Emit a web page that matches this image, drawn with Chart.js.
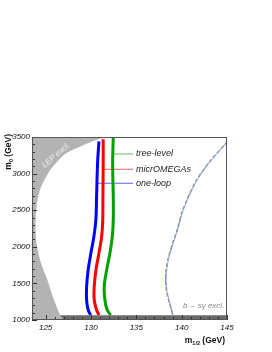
<!DOCTYPE html>
<html>
<head>
<meta charset="utf-8">
<script src="https://cdn.jsdelivr.net/npm/chart.js@4.4.0/dist/chart.umd.min.js"></script>
<style>
  html, body { margin: 0; padding: 0; background: #fff; }
  canvas { display: block; }
</style>
</head>
<body>
<canvas id="chart" width="272" height="352"></canvas>
<script>
// axis ranges (GeV)
const xRange = [123.5, 145];
const yRange = [1000, 3500];
const xMajor = 5;
const yMajor = 500;

// LEP excluded region (boundary, top to bottom, closed on the left)
const lepX = [120, 131.7, 130.6, 129.0, 127.3, 126.25, 125.5, 124.5, 124.05, 123.9, 123.9, 124.05, 124.5, 125.2, 125.8, 126.6, 126.9, 120];
const lepY = [3500, 3500, 3460, 3380, 3280, 3160, 3050, 2820, 2600, 2370, 2200, 2000, 1775, 1546, 1318, 1068, 1000, 1000];

// b -> s gamma excluded band along the bottom
const bsgX = [126.55, 145];
const bsgY = [1065, 1065];

// relic density contours, left branch
const loopX = [130.88, 130.73, 130.62, 130.54, 130.32, 129.99, 129.69, 129.52, 129.52, 129.69, 129.96];
const loopY = [3440, 3141, 2684, 2366, 2138, 1911, 1683, 1455, 1273, 1137, 1068];
const microX = [131.35, 131.35, 131.32, 131.3, 131.18, 130.88, 130.55, 130.36, 130.36, 130.62, 130.88];
const microY = [3470, 3141, 2684, 2366, 2138, 1911, 1683, 1455, 1273, 1137, 1068];
const treeX = [132.46, 132.39, 132.46, 132.46, 132.35, 132.09, 131.73, 131.46, 131.54, 131.79, 132.17];
const treeY = [3500, 3141, 2684, 2366, 2138, 1911, 1683, 1455, 1273, 1137, 1068];

// right branch (all three nearly on top of each other)
const rightX = [145.1, 144.89, 142.96, 141.68, 140.75, 140.02, 139.58, 139.09, 138.54, 138.29, 138.25, 138.36, 138.73, 139.03];
const rightY = [3440, 3414, 3141, 2913, 2684, 2458, 2253, 2070, 1843, 1660, 1523, 1387, 1205, 1068];

// legend
const legendLabels = ['tree-level', 'micrOMEGAs', 'one-loop'];
const legendColors = ['#00a000', '#ff0000', '#0000ff'];
const legendY = [3268, 3059, 2868];
const legendStartX = [132.42, 131.35, 130.73];
const legendEndX = 134.64;

function pts(xs, ys) {
  return xs.map((v, i) => ({ x: v, y: ys[i] }));
}

const datasets = [
  { data: pts(lepX, lepY), fill: 'shape', backgroundColor: '#b3b3b3', borderWidth: 0, tension: 0.3 },
  { data: pts(bsgX, bsgY), fill: 'start', backgroundColor: '#6b6b6b', borderWidth: 0, tension: 0 },
  { data: pts(loopX, loopY), borderColor: '#0000ff', borderWidth: 3, tension: 0.35 },
  { data: pts(microX, microY), borderColor: '#ff0000', borderWidth: 3, tension: 0.35 },
  { data: pts(treeX, treeY), borderColor: '#00a000', borderWidth: 3, tension: 0.35 },
  { data: pts(rightX.map(v => v + 0.04), rightY), borderColor: '#9090ff', borderWidth: 0.8, tension: 0.3 },
  { data: pts(rightX, rightY), borderColor: '#ff6060', borderWidth: 1, tension: 0.3, borderDash: [2, 3], borderDashOffset: 1 },
  { data: pts(rightX.map(v => v - 0.03), rightY), borderColor: '#50b850', borderWidth: 1.2, tension: 0.3, borderDash: [4, 2] }
];

legendLabels.forEach((lab, i) => {
  datasets.push({
    data: [{ x: legendStartX[i], y: legendY[i] }, { x: legendEndX, y: legendY[i] }],
    borderColor: legendColors[i] + 'a0', borderWidth: 1, tension: 0
  });
});

datasets.forEach(d => { d.pointRadius = 0; d.fill = d.fill || false; });

const decor = {
  id: 'decor',
  afterDatasetsDraw(chart) {
    const { ctx, chartArea: a, scales: { x, y } } = chart;
    ctx.save();

    // tick marks point inward
    ctx.strokeStyle = '#333';
    ctx.lineWidth = 1;
    x.ticks.forEach(t => {
      if (t.value % 1 !== 0) return;
      const px = Math.round(x.getPixelForValue(t.value)) + 0.5;
      const len = t.value % xMajor === 0 ? 5 : 3;
      ctx.beginPath(); ctx.moveTo(px, a.bottom); ctx.lineTo(px, a.bottom - len); ctx.stroke();
    });
    y.ticks.forEach(t => {
      const py = Math.round(y.getPixelForValue(t.value)) + 0.5;
      const len = t.value % yMajor === 0 ? 5 : 3;
      ctx.beginPath(); ctx.moveTo(a.left, py); ctx.lineTo(a.left + len, py); ctx.stroke();
    });

    // frame
    ctx.strokeStyle = '#555';
    ctx.strokeRect(a.left + 0.5, a.top + 0.5, a.right - a.left - 1, a.bottom - a.top - 1);

    // legend text
    ctx.fillStyle = '#222';
    ctx.font = 'italic 9px "Liberation Sans", Arial, sans-serif';
    ctx.textBaseline = 'middle';
    ctx.textAlign = 'left';
    legendLabels.forEach((lab, i) => {
      ctx.fillText(lab, x.getPixelForValue(legendEndX) + 3, y.getPixelForValue(legendY[i]));
    });

    // region labels
    ctx.fillStyle = '#888';
    ctx.font = 'italic 8px "Liberation Sans", Arial, sans-serif';
    ctx.fillText('b\u2192 s\u03b3 excl.', x.getPixelForValue(140.15), y.getPixelForValue(1195));

    ctx.save();
    ctx.translate(x.getPixelForValue(126.15), y.getPixelForValue(3250));
    ctx.rotate(-41 * Math.PI / 180);
    ctx.fillStyle = '#f0f0f0';
    ctx.textAlign = 'center';
    ctx.fillText('LEP excl.', 0, 0);
    ctx.restore();

    // axis titles
    ctx.fillStyle = '#111';
    ctx.textBaseline = 'alphabetic';
    const big = 'bold 8.5px "Liberation Sans", Arial, sans-serif';
    const sub = 'bold 5.5px "Liberation Sans", Arial, sans-serif';

    // x title, right aligned to plot edge
    ctx.font = big;
    const wm = ctx.measureText('m').width;
    const wg = ctx.measureText(' (GeV)').width;
    ctx.font = sub;
    const ws = ctx.measureText('1/2').width;
    let tx = a.right - 2 - (wm + ws + wg);
    const ty = a.bottom + 23;
    ctx.font = big; ctx.fillText('m', tx, ty); tx += wm;
    ctx.font = sub; ctx.fillText('1/2', tx, ty + 2); tx += ws;
    ctx.font = big; ctx.fillText(' (GeV)', tx, ty);

    // y title, rotated
    ctx.save();
    ctx.translate(11, a.top - 3);
    ctx.rotate(-Math.PI / 2);
    ctx.font = sub;
    const w0 = ctx.measureText('0').width;
    let sx = -(wm + w0 + wg);
    ctx.font = big; ctx.fillText('m', sx, 0); sx += wm;
    ctx.font = sub; ctx.fillText('0', sx, 2); sx += w0;
    ctx.font = big; ctx.fillText(' (GeV)', sx, 0);
    ctx.restore();

    ctx.restore();
  }
};

const tickFont = { family: '"Liberation Sans", Arial, sans-serif', size: 8, style: 'italic' };

new Chart(document.getElementById('chart').getContext('2d'), {
  type: 'line',
  data: { datasets },
  options: {
    responsive: false,
    animation: false,
    layout: { padding: { top: 137, right: 45, left: 0, bottom: 0 } },
    plugins: { legend: { display: false }, tooltip: { enabled: false } },
    scales: {
      x: {
        type: 'linear',
        min: xRange[0],
        max: xRange[1],
        afterFit(s) { s.height = 32; },
        grid: { display: false, drawTicks: false },
        border: { display: false },
        ticks: {
          stepSize: 1, autoSkip: false, maxRotation: 0, padding: 3,
          font: tickFont, color: '#111',
          callback: v => (v % xMajor === 0 ? String(v) : '')
        }
      },
      y: {
        type: 'linear',
        min: yRange[0],
        max: yRange[1],
        afterFit(s) { s.width = 32; },
        grid: { display: false, drawTicks: false },
        border: { display: false },
        ticks: {
          stepSize: 100, autoSkip: false, padding: 2,
          font: tickFont, color: '#111',
          callback: v => (v % yMajor === 0 ? String(v) : '')
        }
      }
    }
  },
  plugins: [decor]
});
</script>
</body>
</html>
